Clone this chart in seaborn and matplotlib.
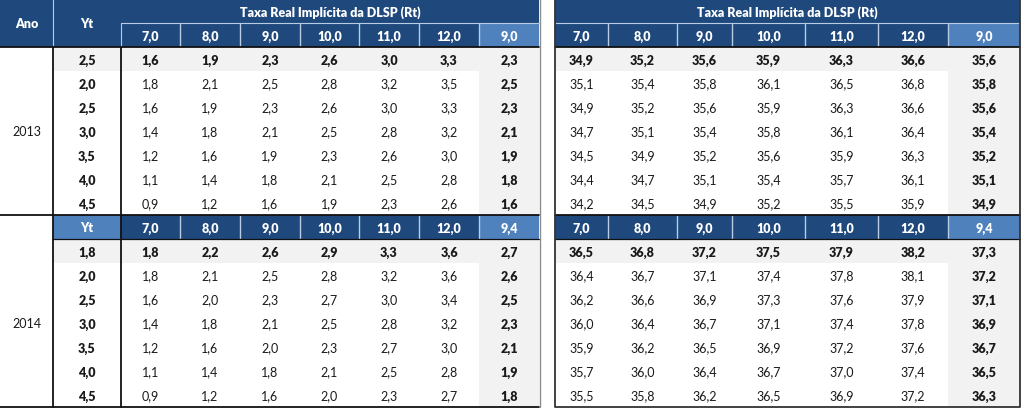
import numpy as np
import matplotlib.pyplot as plt
import seaborn as sns
from matplotlib.patches import Rectangle

# Set style
sns.set_theme(style='white')
plt.rcParams['font.family'] = ['Lato', 'DejaVu Sans']

# ---------------------------------------------------------------------------
# Data
# ---------------------------------------------------------------------------
years = ['2013', '2014']
title = 'Taxa Real Implícita da DLSP (Rt)'
rt_cols = [7.0, 8.0, 9.0, 10.0, 11.0, 12.0]
rt_base = [9.0, 9.4]

yt_2013 = [2.5, 2.0, 2.5, 3.0, 3.5, 4.0, 4.5]
yt_2014 = [1.8, 2.0, 2.5, 3.0, 3.5, 4.0, 4.5]

# left table (first value block), last column = base Rt
left_2013 = [
    [1.6, 1.9, 2.3, 2.6, 3.0, 3.3, 2.3],
    [1.8, 2.1, 2.5, 2.8, 3.2, 3.5, 2.5],
    [1.6, 1.9, 2.3, 2.6, 3.0, 3.3, 2.3],
    [1.4, 1.8, 2.1, 2.5, 2.8, 3.2, 2.1],
    [1.2, 1.6, 1.9, 2.3, 2.6, 3.0, 1.9],
    [1.1, 1.4, 1.8, 2.1, 2.5, 2.8, 1.8],
    [0.9, 1.2, 1.6, 1.9, 2.3, 2.6, 1.6],
]
left_2014 = [
    [1.8, 2.2, 2.6, 2.9, 3.3, 3.6, 2.7],
    [1.8, 2.1, 2.5, 2.8, 3.2, 3.6, 2.6],
    [1.6, 2.0, 2.3, 2.7, 3.0, 3.4, 2.5],
    [1.4, 1.8, 2.1, 2.5, 2.8, 3.2, 2.3],
    [1.2, 1.6, 2.0, 2.3, 2.7, 3.0, 2.1],
    [1.1, 1.4, 1.8, 2.1, 2.5, 2.8, 1.9],
    [0.9, 1.2, 1.6, 2.0, 2.3, 2.7, 1.8],
]
# right table (second value block)
right_2013 = [
    [34.9, 35.2, 35.6, 35.9, 36.3, 36.6, 35.6],
    [35.1, 35.4, 35.8, 36.1, 36.5, 36.8, 35.8],
    [34.9, 35.2, 35.6, 35.9, 36.3, 36.6, 35.6],
    [34.7, 35.1, 35.4, 35.8, 36.1, 36.4, 35.4],
    [34.5, 34.9, 35.2, 35.6, 35.9, 36.3, 35.2],
    [34.4, 34.7, 35.1, 35.4, 35.7, 36.1, 35.1],
    [34.2, 34.5, 34.9, 35.2, 35.5, 35.9, 34.9],
]
right_2014 = [
    [36.5, 36.8, 37.2, 37.5, 37.9, 38.2, 37.3],
    [36.4, 36.7, 37.1, 37.4, 37.8, 38.1, 37.2],
    [36.2, 36.6, 36.9, 37.3, 37.6, 37.9, 37.1],
    [36.0, 36.4, 36.7, 37.1, 37.4, 37.8, 36.9],
    [35.9, 36.2, 36.5, 36.9, 37.2, 37.6, 36.7],
    [35.7, 36.0, 36.4, 36.7, 37.0, 37.4, 36.5],
    [35.5, 35.8, 36.2, 36.5, 36.9, 37.2, 36.3],
]

# ---------------------------------------------------------------------------
# Layout (pixel grid)
# ---------------------------------------------------------------------------
DARK = '#1F497D'
LIGHT = '#4F81BD'
GRAY = '#F2F2F2'
SEP = '#B8CCE4'
TXT = '#1a1a1a'
FS = 9.0

left_edges = [0, 53, 121, 180, 240, 300, 359, 419, 479, 539]
right_edges = [555, 608, 677, 732, 805, 878, 948, 1020]
ROW_H = 24
block_top = [48, 240]  # first data row of each year


def fmt(v):
    return f'{v:.1f}'.replace('.', ',')


fig = plt.figure(figsize=(10.23, 4.10), dpi=100)
ax = fig.add_axes([0, 0, 1, 1])
ax.set_xlim(0, 1023)
ax.set_ylim(410, 0)
ax.axis('off')


def cell(x0, x1, y0, y1, color):
    ax.add_patch(Rectangle((x0, y0), x1 - x0, y1 - y0, facecolor=color,
                           edgecolor='none', zorder=1))


def label(x0, x1, y0, y1, s, bold=False, color=TXT):
    ax.text((x0 + x1) / 2, (y0 + y1) / 2 + 0.5, s, ha='center', va='center',
            fontsize=FS, fontweight='heavy' if bold else 'normal',
            color=color, zorder=3)


def value_header(edges, y0, base):
    # Rt columns header row
    for j in range(len(edges) - 1):
        col = LIGHT if j == len(edges) - 2 else DARK
        cell(edges[j], edges[j + 1], y0, y0 + ROW_H, col)
        txt = fmt(rt_cols[j]) if j < len(rt_cols) else fmt(base)
        label(edges[j], edges[j + 1], y0, y0 + ROW_H, txt, bold=True, color='white')
    for x in edges[1:-1]:
        ax.plot([x, x], [y0 + 1, y0 + ROW_H - 1], color=SEP, lw=1.0, zorder=2)


def value_body(edges, y0, rows):
    n = len(edges) - 1
    for i, row in enumerate(rows):
        ya, yb = y0 + i * ROW_H, y0 + (i + 1) * ROW_H
        if i == 0:
            cell(edges[0], edges[-1], ya, yb, GRAY)
        cell(edges[n - 1], edges[n], ya, yb, GRAY)
        for j, v in enumerate(row):
            label(edges[j], edges[j + 1], ya, yb, fmt(v),
                  bold=(i == 0 or j == n - 1))


# ---------------------------------------------------------------------------
# Top header (2013)
# ---------------------------------------------------------------------------
L = left_edges
R = right_edges
cell(L[0], L[1], 0, 48, DARK)
cell(L[1], L[2], 0, 48, DARK)
label(L[0], L[1], 0, 48, 'Ano', bold=True, color='white')
label(L[1], L[2], 0, 48, 'Yt', bold=True, color='white')
ax.plot([L[1], L[1]], [0, 48], color=SEP, lw=0.8, zorder=2)
ax.plot([L[2], L[2]], [24, 48], color=SEP, lw=0.8, zorder=2)

for edges in (L[2:], R):
    cell(edges[0], edges[-1], 0, 24, DARK)
    label(edges[0], edges[-1], 0, 24, title, bold=True, color='white')
    ax.plot([edges[0], edges[-1]], [24, 24], color=SEP, lw=0.8, zorder=2)

value_header(L[2:], 24, rt_base[0])
value_header(R, 24, rt_base[0])

# ---------------------------------------------------------------------------
# Data blocks
# ---------------------------------------------------------------------------
yt_all = [yt_2013, yt_2014]
left_all = [left_2013, left_2014]
right_all = [right_2013, right_2014]

for k, y0 in enumerate(block_top):
    yt = yt_all[k]
    # Yt column
    for i, v in enumerate(yt):
        ya, yb = y0 + i * ROW_H, y0 + (i + 1) * ROW_H
        if i == 0:
            cell(L[1], L[2], ya, yb, GRAY)
        label(L[1], L[2], ya, yb, fmt(v), bold=True)
    value_body(L[2:], y0, left_all[k])
    value_body(R, y0, right_all[k])
    y_end = y0 + len(yt) * ROW_H
    label(L[0], L[1], y0, y_end, years[k])

# 2014 header row
y_h = block_top[1] - ROW_H
cell(L[1], L[2], y_h, block_top[1], LIGHT)
label(L[1], L[2], y_h, block_top[1], 'Yt', bold=True, color='white')
value_header(L[2:], y_h, rt_base[1])
value_header(R, y_h, rt_base[1])

# ---------------------------------------------------------------------------
# Rules / borders
# ---------------------------------------------------------------------------
bottom = block_top[1] + 7 * ROW_H
k_lw = 1.3
ax.plot([L[0], L[-1]], [48, 48], color='#111111', lw=k_lw, zorder=4)
ax.plot([L[0], L[-1]], [y_h, y_h], color='#111111', lw=k_lw, zorder=4)
ax.plot([L[1], L[-1]], [block_top[1], block_top[1]], color='#111111', lw=0.9, zorder=4)
ax.plot([L[0], L[-1]], [bottom, bottom], color='#111111', lw=k_lw, zorder=4)
ax.plot([L[1], L[1]], [48, bottom], color='#111111', lw=k_lw, zorder=4)
ax.plot([L[2], L[2]], [48, bottom], color='#111111', lw=k_lw, zorder=4)
ax.plot([L[-1] + 1, L[-1] + 1], [0, bottom], color='#8c8c8c', lw=1.0, zorder=4)

ax.plot([R[0], R[-1]], [48, 48], color='#111111', lw=k_lw, zorder=4)
ax.plot([R[0], R[-1]], [y_h, y_h], color='#111111', lw=k_lw, zorder=4)
ax.plot([R[0], R[-1]], [block_top[1], block_top[1]], color='#111111', lw=0.9, zorder=4)
ax.plot([R[0], R[0], R[-1], R[-1]], [0, bottom, bottom, 0],
        color='#333333', lw=k_lw, zorder=4)

fig.savefig('out.png', dpi=100)
